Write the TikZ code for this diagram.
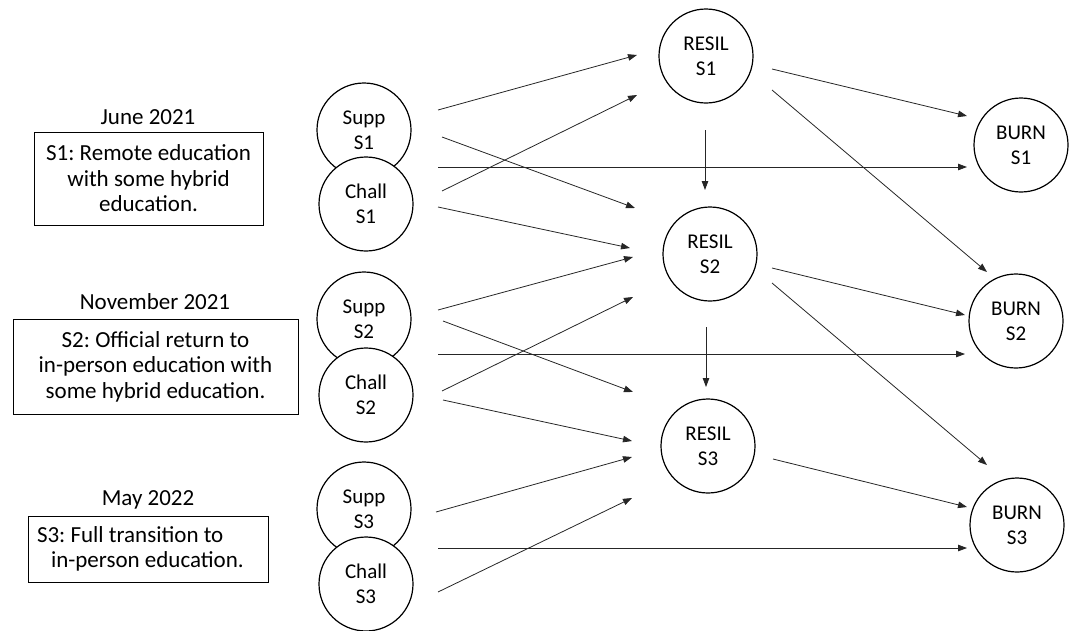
\documentclass[tikz,border=0pt]{standalone}
\usepackage{fontspec}
\setmainfont{Carlito}
\usetikzlibrary{arrows.meta}
\frenchspacing
\begin{document}
\begin{tikzpicture}[x=1pt,y=-1pt,
  circ/.style={circle,draw=black,line width=1.2pt,minimum size=94pt,inner sep=0pt,align=center,font=\fontsize{21}{25}\selectfont},
  lab/.style={font=\fontsize{23}{25.5}\selectfont,inner sep=0pt},
  scen/.style={draw=black,line width=1pt,font=\fontsize{23}{25.5}\selectfont,inner sep=0pt},
  arr/.style={draw=black!85,line width=0.8pt,-{Triangle[length=9pt,width=6.5pt]}}]
\useasboundingbox (0,0) rectangle (1070,630);
% left labels
\node[lab] (t1) at (148,117) {June 2021};
\node[scen,minimum width=229pt,minimum height=93pt,align=center] (b1) at (148.5,178.5) {S1: Remote education\\with some hybrid\\education.};
\node[lab] (t2) at (155,302) {November 2021};
\node[scen,minimum width=285pt,minimum height=95pt,align=center] (b2) at (155.5,366.5) {S2: Official return to\\in-person education with\\some hybrid education.};
\node[lab] (t3) at (148,500) {May 2022};
\node[scen,minimum width=240pt,minimum height=66pt,align=flush left,text width=222pt] (b3) at (148,549) {S3: Full transition to\\\hspace*{14pt}in-person education.};
% circles
\node[circ,fill=white] (supp1) at (364,130) {Supp\\S1};
\node[circ,fill=white] (chall1) at (366,204) {Chall\\S1};
\node[circ,fill=white] (supp2) at (364,319) {Supp\\S2};
\node[circ,fill=white] (chall2) at (366,395) {Chall\\S2};
\node[circ,fill=white] (supp3) at (364,509) {Supp\\S3};
\node[circ,fill=white] (chall3) at (366,584) {Chall\\S3};
\node[circ] (resil1) at (706,56) {RESIL\\S1};
\node[circ] (resil2) at (710,254) {RESIL\\S2};
\node[circ] (resil3) at (708,446) {RESIL\\S3};
\node[circ] (burn1) at (1021,145) {BURN\\S1};
\node[circ] (burn2) at (1016,321) {BURN\\S2};
\node[circ] (burn3) at (1017,525) {BURN\\S3};
% connectors
\draw[arr] ([shift={(74,-20)}]supp1.center) -- ([shift={(-69,-1)}]resil1.center);
\draw[arr] ([shift={(76,-13)}]chall1.center) -- ([shift={(-69,39)}]resil1.center);
\draw[arr] ([shift={(78,7)}]supp1.center) -- ([shift={(-75,-46)}]resil2.center);
\draw[arr] ([shift={(74,37)}]supp1.center) -- ([shift={(-54,22)}]burn1.center);
\draw[arr] ([shift={(72,3)}]chall1.center) -- ([shift={(-80,-6)}]resil2.center);
\draw[arr] ([shift={(74,-9)}]supp2.center) -- ([shift={(-77,3)}]resil2.center);
\draw[arr] ([shift={(76,-4)}]chall2.center) -- ([shift={(-77,43)}]resil2.center);
\draw[arr] ([shift={(79,2)}]supp2.center) -- ([shift={(-75,-54)}]resil3.center);
\draw[arr] ([shift={(74,35)}]supp2.center) -- ([shift={(-51,33)}]burn2.center);
\draw[arr] ([shift={(77,5)}]chall2.center) -- ([shift={(-76,-5)}]resil3.center);
\draw[arr] ([shift={(72,3)}]supp3.center) -- ([shift={(-76,11)}]resil3.center);
\draw[arr] ([shift={(72,8)}]chall3.center) -- ([shift={(-76,52)}]resil3.center);
\draw[arr] ([shift={(74,39)}]supp3.center) -- ([shift={(-50,23)}]burn3.center);
\draw[arr] ([shift={(-1,74)}]resil1.center) -- ([shift={(-5,-64)}]resil2.center);
\draw[arr] ([shift={(-4,73)}]resil2.center) -- ([shift={(-2,-59)}]resil3.center);
\draw[arr] ([shift={(66,13)}]resil1.center) -- ([shift={(-54,-29)}]burn1.center);
\draw[arr] ([shift={(66,34)}]resil1.center) -- ([shift={(-29,-49)}]burn2.center);
\draw[arr] ([shift={(62,14)}]resil2.center) -- ([shift={(-51,-6)}]burn2.center);
\draw[arr] ([shift={(62,29)}]resil2.center) -- ([shift={(-30,-60)}]burn3.center);
\draw[arr] ([shift={(65,13)}]resil3.center) -- ([shift={(-50,-18)}]burn3.center);
\end{tikzpicture}
\end{document}
